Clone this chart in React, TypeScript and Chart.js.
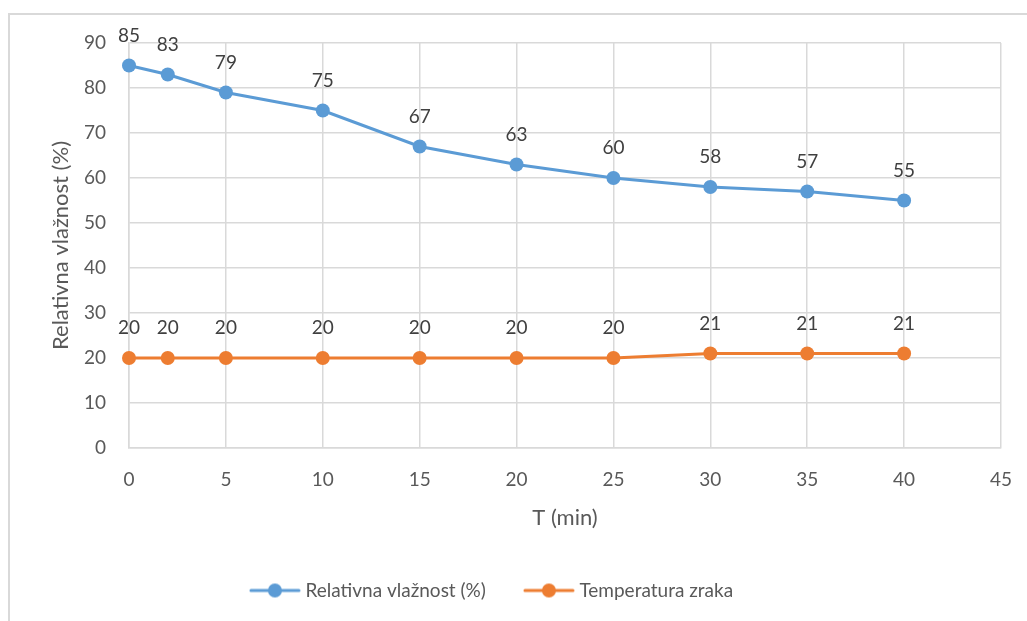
import { useEffect, useRef } from 'react';
import { Chart, registerables } from 'chart.js';

Chart.register(...registerables);

const timeMin = [0, 2, 5, 10, 15, 20, 25, 30, 35, 40];
const humidity = [85, 83, 79, 75, 67, 63, 60, 58, 57, 55];
const temperature = [20, 20, 20, 20, 20, 20, 20, 21, 21, 21];
const seriesNames = ['Relativna vlažnost (%)', 'Temperatura zraka'];
const seriesColors = ['#5B9BD5', '#ED7D31'];
const xTitle = 'T (min)';
const yTitle = 'Relativna vlažnost (%)';

const FONT = 'Lato, "Open Sans", sans-serif';
const FS = 19;
const TFS = 22;

function legendImage(color: string) {
  const c = document.createElement('canvas');
  c.width = 52;
  c.height = 16;
  const g = c.getContext('2d')!;
  g.strokeStyle = color;
  g.lineWidth = 3;
  g.lineCap = 'round';
  g.beginPath();
  g.moveTo(2, 8);
  g.lineTo(50, 8);
  g.stroke();
  g.fillStyle = color;
  g.beginPath();
  g.arc(26, 8, 7, 0, Math.PI * 2);
  g.fill();
  return c;
}

const dataLabels = {
  id: 'dataLabels',
  afterDatasetsDraw(chart: any) {
    const ctx = chart.ctx;
    ctx.save();
    ctx.font = `${FS}px ${FONT}`;
    ctx.fillStyle = '#404040';
    ctx.textAlign = 'center';
    ctx.textBaseline = 'middle';
    chart.data.datasets.forEach((ds: any, i: number) => {
      const meta = chart.getDatasetMeta(i);
      meta.data.forEach((el: any, j: number) => {
        ctx.fillText(String(ds.data[j].y), el.x, el.y - 30);
      });
    });
    ctx.restore();
  },
};

export default function App() {
  const ref = useRef<HTMLCanvasElement>(null);

  useEffect(() => {
    if (!ref.current) return;
    const images = seriesColors.map(legendImage);
    const series = [humidity, temperature];
    const chart = new Chart(ref.current, {
      type: 'line',
      data: {
        datasets: series.map((vals, i) => ({
          label: seriesNames[i],
          data: timeMin.map((t, j) => ({ x: t, y: vals[j] })),
          borderColor: seriesColors[i],
          backgroundColor: seriesColors[i],
          borderWidth: 3,
          pointRadius: 7,
          pointBorderWidth: 0,
          pointBackgroundColor: seriesColors[i],
          tension: 0,
          clip: false as any,
        })),
      },
      options: {
        responsive: false,
        animation: false,
        events: [],
        layout: { padding: { top: 43, right: 31, left: 0, bottom: 11 } },
        scales: {
          x: {
            type: 'linear',
            min: 0,
            max: 45,
            ticks: { stepSize: 5, padding: 20, color: '#595959', font: { family: FONT, size: FS } },
            grid: { color: '#d9d9d9', lineWidth: 1.5, drawTicks: false },
            border: { color: '#d9d9d9', width: 1.5 },
            title: {
              display: true,
              text: xTitle,
              color: '#595959',
              font: { family: FONT, size: TFS },
              padding: { top: 0, bottom: 7.8 },
            },
            afterFit(scale: any) {
              scale.height = 91;
            },
          },
          y: {
            min: 0,
            max: 90,
            ticks: { stepSize: 10, padding: 23, color: '#595959', font: { family: FONT, size: FS } },
            grid: { color: '#d9d9d9', lineWidth: 1.5, drawTicks: false },
            border: { color: '#d9d9d9', width: 1.5 },
            title: {
              display: true,
              text: yTitle,
              color: '#595959',
              font: { family: FONT, size: TFS },
              padding: { top: 61.8, bottom: 0 },
            },
            afterFit(scale: any) {
              scale.width = 143;
            },
          },
        },
        plugins: {
          legend: {
            position: 'bottom',
            labels: {
              usePointStyle: true,
              pointStyleWidth: 42,
              padding: 42,
              color: '#595959',
              font: { family: FONT, size: FS },
              generateLabels(c: any) {
                const items = (Chart.defaults.plugins.legend.labels as any).generateLabels(c);
                return items.map((it: any, i: number) => ({ ...it, pointStyle: images[i] }));
              },
            },
          },
          tooltip: { enabled: false },
        },
      },
      plugins: [dataLabels],
    } as any);
    return () => chart.destroy();
  }, []);

  return (
    <div style={{ position: 'fixed', inset: 0, overflow: 'hidden', background: '#fff' }}>
      <div
        style={{
          position: 'absolute',
          left: 8,
          top: 13,
          width: 1200,
          height: 800,
          border: '2px solid #d9d9d9',
        }}
      />
      <canvas
        ref={ref}
        width={1046}
        height={621}
        style={{ position: 'absolute', left: -14, top: 0, width: 1046, height: 621 }}
      />
    </div>
  );
}
